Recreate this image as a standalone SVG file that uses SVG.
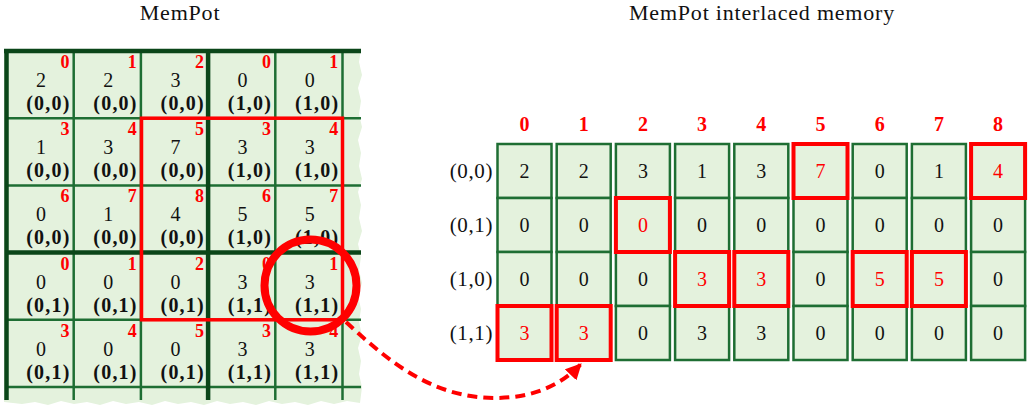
<svg xmlns="http://www.w3.org/2000/svg" width="1029" height="407" viewBox="0 0 1029 407">
  <style>
    text { font-family: "Liberation Serif", "Times New Roman", serif; fill: #111; }
    .title { font-size: 22px; text-anchor: middle; letter-spacing: 0.8px; }
    .idx { font-size: 18px; font-weight: bold; fill: #ff0000; text-anchor: end; }
    .val { font-size: 20px; text-anchor: middle; }
    .crd { font-size: 20px; font-weight: bold; text-anchor: end; letter-spacing: 1.2px; }
    .hdr { font-size: 20px; font-weight: bold; fill: #ff0000; text-anchor: middle; }
    .rlab { font-size: 21px; text-anchor: end; letter-spacing: 0.6px; }
    .mval { font-size: 20px; text-anchor: middle; }
    .hot { fill: #ff0000; }
    .thin { stroke: #1e6e33; stroke-width: 2.5; fill: none; }
    .thick { stroke: #0b4619; stroke-width: 4.5; fill: none; }
    .mem { fill: #e4f2dd; stroke: #1e6e33; stroke-width: 2.5; }
    .mark { fill: none; stroke: #ff0000; stroke-width: 4; }
  </style>
  <defs>
    <marker id="head" markerUnits="userSpaceOnUse" markerWidth="18" markerHeight="16" refX="15" refY="8" orient="auto">
      <path d="M0,0 L16,8 L0,16 Z" fill="#ff0000"/>
    </marker>
  </defs>

  <!-- titles -->
  <text class="title" x="180" y="20">MemPot</text>
  <text class="title" x="762" y="20">MemPot interlaced memory</text>

  <!-- torn sheet with the pot grid -->
  <g id="pot-sheet">
    <path fill="#e4f2dd" d="M4,49 L361,49 L359,62 L362,75 L358,88 L361,101 L359,114 L362,127 L358,140 L361,153 L359,166 L362,179 L358,192 L361,205 L359,218 L362,231 L358,244 L361,257 L359,270 L362,283 L358,296 L361,309 L359,322 L362,335 L358,348 L361,361 L359,374 L362,387 L360,403 L347,401 L334,404 L321,401 L308,405 L295,402 L282,404 L269,401 L256,405 L243,402 L230,404 L217,401 L204,405 L191,402 L178,404 L165,401 L152,405 L139,402 L126,404 L113,401 L100,405 L87,402 L74,404 L61,401 L48,405 L35,402 L22,404 L4,402 Z"/>
    <g class="thin">
      <line x1="73.7" y1="51" x2="73.7" y2="400"/>
      <line x1="140.9" y1="51" x2="140.9" y2="400"/>
      <line x1="275.3" y1="51" x2="275.3" y2="400"/>
      <line x1="342.5" y1="51" x2="342.5" y2="400"/>
      <line x1="6.5" y1="118.2" x2="361" y2="118.2"/>
      <line x1="6.5" y1="185.4" x2="361" y2="185.4"/>
      <line x1="6.5" y1="319.8" x2="361" y2="319.8"/>
      <line x1="6.5" y1="387" x2="361" y2="387"/>
    </g>
    <g class="thick">
      <line x1="6.5" y1="49" x2="6.5" y2="400"/>
      <line x1="4" y1="51" x2="361" y2="51"/>
      <line x1="208.1" y1="51" x2="208.1" y2="400"/>
      <line x1="6.5" y1="252.6" x2="361" y2="252.6"/>
    </g>
  </g>

  <!-- pot cells: index, value, owner -->
  <g id="pot-r0">
    <g id="pot-0-0"><text class="idx" x="69.5" y="68">0</text><text class="val" x="41" y="87">2</text><text class="crd" x="70.5" y="110">(0,0)</text></g>
    <g id="pot-0-1"><text class="idx" x="136.7" y="68">1</text><text class="val" x="108.2" y="87">2</text><text class="crd" x="137.7" y="110">(0,0)</text></g>
    <g id="pot-0-2"><text class="idx" x="203.9" y="68">2</text><text class="val" x="175.4" y="87">3</text><text class="crd" x="204.9" y="110">(0,0)</text></g>
    <g id="pot-0-3"><text class="idx" x="271.1" y="68">0</text><text class="val" x="242.6" y="87">0</text><text class="crd" x="272.1" y="110">(1,0)</text></g>
    <g id="pot-0-4"><text class="idx" x="338.3" y="68">1</text><text class="val" x="309.8" y="87">0</text><text class="crd" x="339.3" y="110">(1,0)</text></g>
  </g>
  <g id="pot-r1">
    <g id="pot-1-0"><text class="idx" x="69.5" y="135.2">3</text><text class="val" x="41" y="154.2">1</text><text class="crd" x="70.5" y="177.2">(0,0)</text></g>
    <g id="pot-1-1"><text class="idx" x="136.7" y="135.2">4</text><text class="val" x="108.2" y="154.2">3</text><text class="crd" x="137.7" y="177.2">(0,0)</text></g>
    <g id="pot-1-2"><text class="idx" x="203.9" y="135.2">5</text><text class="val" x="175.4" y="154.2">7</text><text class="crd" x="204.9" y="177.2">(0,0)</text></g>
    <g id="pot-1-3"><text class="idx" x="271.1" y="135.2">3</text><text class="val" x="242.6" y="154.2">3</text><text class="crd" x="272.1" y="177.2">(1,0)</text></g>
    <g id="pot-1-4"><text class="idx" x="338.3" y="135.2">4</text><text class="val" x="309.8" y="154.2">3</text><text class="crd" x="339.3" y="177.2">(1,0)</text></g>
  </g>
  <g id="pot-r2">
    <g id="pot-2-0"><text class="idx" x="69.5" y="202.4">6</text><text class="val" x="41" y="221.4">0</text><text class="crd" x="70.5" y="244.4">(0,0)</text></g>
    <g id="pot-2-1"><text class="idx" x="136.7" y="202.4">7</text><text class="val" x="108.2" y="221.4">1</text><text class="crd" x="137.7" y="244.4">(0,0)</text></g>
    <g id="pot-2-2"><text class="idx" x="203.9" y="202.4">8</text><text class="val" x="175.4" y="221.4">4</text><text class="crd" x="204.9" y="244.4">(0,0)</text></g>
    <g id="pot-2-3"><text class="idx" x="271.1" y="202.4">6</text><text class="val" x="242.6" y="221.4">5</text><text class="crd" x="272.1" y="244.4">(1,0)</text></g>
    <g id="pot-2-4"><text class="idx" x="338.3" y="202.4">7</text><text class="val" x="309.8" y="221.4">5</text><text class="crd" x="339.3" y="244.4">(1,0)</text></g>
  </g>
  <g id="pot-r3">
    <g id="pot-3-0"><text class="idx" x="69.5" y="269.6">0</text><text class="val" x="41" y="288.6">0</text><text class="crd" x="70.5" y="311.6">(0,1)</text></g>
    <g id="pot-3-1"><text class="idx" x="136.7" y="269.6">1</text><text class="val" x="108.2" y="288.6">0</text><text class="crd" x="137.7" y="311.6">(0,1)</text></g>
    <g id="pot-3-2"><text class="idx" x="203.9" y="269.6">2</text><text class="val" x="175.4" y="288.6">0</text><text class="crd" x="204.9" y="311.6">(0,1)</text></g>
    <g id="pot-3-3"><text class="idx" x="271.1" y="269.6">0</text><text class="val" x="242.6" y="288.6">3</text><text class="crd" x="272.1" y="311.6">(1,1)</text></g>
    <g id="pot-3-4"><text class="idx" x="338.3" y="269.6">1</text><text class="val" x="309.8" y="288.6">3</text><text class="crd" x="339.3" y="311.6">(1,1)</text></g>
  </g>
  <g id="pot-r4">
    <g id="pot-4-0"><text class="idx" x="69.5" y="336.8">3</text><text class="val" x="41" y="355.8">0</text><text class="crd" x="70.5" y="378.8">(0,1)</text></g>
    <g id="pot-4-1"><text class="idx" x="136.7" y="336.8">4</text><text class="val" x="108.2" y="355.8">0</text><text class="crd" x="137.7" y="378.8">(0,1)</text></g>
    <g id="pot-4-2"><text class="idx" x="203.9" y="336.8">5</text><text class="val" x="175.4" y="355.8">0</text><text class="crd" x="204.9" y="378.8">(0,1)</text></g>
    <g id="pot-4-3"><text class="idx" x="271.1" y="336.8">3</text><text class="val" x="242.6" y="355.8">3</text><text class="crd" x="272.1" y="378.8">(1,1)</text></g>
    <g id="pot-4-4"><text class="idx" x="338.3" y="336.8">4</text><text class="val" x="309.8" y="355.8">3</text><text class="crd" x="339.3" y="378.8">(1,1)</text></g>
  </g>

  <!-- highlighted window and focus ring -->
  <g id="window">
    <rect x="141.5" y="118.2" width="201" height="201.6" fill="none" stroke="#ff0000" stroke-width="3.5"/>
  </g>
  <g id="focus">
    <circle cx="310.5" cy="285.5" r="46" fill="none" stroke="#ff0000" stroke-width="8"/>
  </g>

  <!-- interlaced memory: column indices -->
  <g id="mem-header">
    <text class="hdr" x="524.5" y="131">0</text>
    <text class="hdr" x="583.7" y="131">1</text>
    <text class="hdr" x="642.9" y="131">2</text>
    <text class="hdr" x="702.1" y="131">3</text>
    <text class="hdr" x="761.3" y="131">4</text>
    <text class="hdr" x="820.5" y="131">5</text>
    <text class="hdr" x="879.7" y="131">6</text>
    <text class="hdr" x="938.9" y="131">7</text>
    <text class="hdr" x="998.1" y="131">8</text>
  </g>

  <!-- row labels -->
  <g id="mem-labels">
    <text class="rlab" x="493" y="178">(0,0)</text>
    <text class="rlab" x="493" y="232">(0,1)</text>
    <text class="rlab" x="493" y="286">(1,0)</text>
    <text class="rlab" x="493" y="340">(1,1)</text>
  </g>

  <!-- memory cells -->
  <g id="mem-row-00">
    <rect class="mem" x="497.5" y="144" width="54" height="54"/>
    <rect class="mem" x="556.7" y="144" width="54" height="54"/>
    <rect class="mem" x="615.9" y="144" width="54" height="54"/>
    <rect class="mem" x="675.1" y="144" width="54" height="54"/>
    <rect class="mem" x="734.3" y="144" width="54" height="54"/>
    <rect class="mem" x="793.5" y="144" width="54" height="54"/>
    <rect class="mem" x="852.7" y="144" width="54" height="54"/>
    <rect class="mem" x="911.9" y="144" width="54" height="54"/>
    <rect class="mem" x="971.1" y="144" width="54" height="54"/>
    <text class="mval" x="524.5" y="178">2</text>
    <text class="mval" x="583.7" y="178">2</text>
    <text class="mval" x="642.9" y="178">3</text>
    <text class="mval" x="702.1" y="178">1</text>
    <text class="mval" x="761.3" y="178">3</text>
    <text class="mval hot" x="820.5" y="178">7</text>
    <text class="mval" x="879.7" y="178">0</text>
    <text class="mval" x="938.9" y="178">1</text>
    <text class="mval hot" x="998.1" y="178">4</text>
  </g>
  <g id="mem-row-01">
    <rect class="mem" x="497.5" y="198" width="54" height="54"/>
    <rect class="mem" x="556.7" y="198" width="54" height="54"/>
    <rect class="mem" x="615.9" y="198" width="54" height="54"/>
    <rect class="mem" x="675.1" y="198" width="54" height="54"/>
    <rect class="mem" x="734.3" y="198" width="54" height="54"/>
    <rect class="mem" x="793.5" y="198" width="54" height="54"/>
    <rect class="mem" x="852.7" y="198" width="54" height="54"/>
    <rect class="mem" x="911.9" y="198" width="54" height="54"/>
    <rect class="mem" x="971.1" y="198" width="54" height="54"/>
    <text class="mval" x="524.5" y="232">0</text>
    <text class="mval" x="583.7" y="232">0</text>
    <text class="mval hot" x="642.9" y="232">0</text>
    <text class="mval" x="702.1" y="232">0</text>
    <text class="mval" x="761.3" y="232">0</text>
    <text class="mval" x="820.5" y="232">0</text>
    <text class="mval" x="879.7" y="232">0</text>
    <text class="mval" x="938.9" y="232">0</text>
    <text class="mval" x="998.1" y="232">0</text>
  </g>
  <g id="mem-row-10">
    <rect class="mem" x="497.5" y="252" width="54" height="54"/>
    <rect class="mem" x="556.7" y="252" width="54" height="54"/>
    <rect class="mem" x="615.9" y="252" width="54" height="54"/>
    <rect class="mem" x="675.1" y="252" width="54" height="54"/>
    <rect class="mem" x="734.3" y="252" width="54" height="54"/>
    <rect class="mem" x="793.5" y="252" width="54" height="54"/>
    <rect class="mem" x="852.7" y="252" width="54" height="54"/>
    <rect class="mem" x="911.9" y="252" width="54" height="54"/>
    <rect class="mem" x="971.1" y="252" width="54" height="54"/>
    <text class="mval" x="524.5" y="286">0</text>
    <text class="mval" x="583.7" y="286">0</text>
    <text class="mval" x="642.9" y="286">0</text>
    <text class="mval hot" x="702.1" y="286">3</text>
    <text class="mval hot" x="761.3" y="286">3</text>
    <text class="mval" x="820.5" y="286">0</text>
    <text class="mval hot" x="879.7" y="286">5</text>
    <text class="mval hot" x="938.9" y="286">5</text>
    <text class="mval" x="998.1" y="286">0</text>
  </g>
  <g id="mem-row-11">
    <rect class="mem" x="497.5" y="306" width="54" height="54"/>
    <rect class="mem" x="556.7" y="306" width="54" height="54"/>
    <rect class="mem" x="615.9" y="306" width="54" height="54"/>
    <rect class="mem" x="675.1" y="306" width="54" height="54"/>
    <rect class="mem" x="734.3" y="306" width="54" height="54"/>
    <rect class="mem" x="793.5" y="306" width="54" height="54"/>
    <rect class="mem" x="852.7" y="306" width="54" height="54"/>
    <rect class="mem" x="911.9" y="306" width="54" height="54"/>
    <rect class="mem" x="971.1" y="306" width="54" height="54"/>
    <text class="mval hot" x="524.5" y="340">3</text>
    <text class="mval hot" x="583.7" y="340">3</text>
    <text class="mval" x="642.9" y="340">0</text>
    <text class="mval" x="702.1" y="340">3</text>
    <text class="mval" x="761.3" y="340">3</text>
    <text class="mval" x="820.5" y="340">0</text>
    <text class="mval" x="879.7" y="340">0</text>
    <text class="mval" x="938.9" y="340">0</text>
    <text class="mval" x="998.1" y="340">0</text>
  </g>

  <!-- marked memory slots -->
  <g id="mem-marks" class="mark">
    <rect x="793.5" y="144" width="54" height="54"/>
    <rect x="971.1" y="144" width="54" height="54"/>
    <rect x="615.9" y="198" width="54" height="54"/>
    <rect x="675.1" y="252" width="54" height="54"/>
    <rect x="734.3" y="252" width="54" height="54"/>
    <rect x="852.7" y="252" width="54" height="54"/>
    <rect x="911.9" y="252" width="54" height="54"/>
    <rect x="497.5" y="306" width="54" height="54"/>
    <rect x="556.7" y="306" width="54" height="54"/>
  </g>

  <!-- connectors -->
  <g id="connectors">
    <path d="M346,322 C385,358 430,398 495,398 C532,398 560,386 581,364" fill="none" stroke="#ff0000" stroke-width="4" stroke-dasharray="10,6" marker-end="url(#head)"/>
  </g>
</svg>
